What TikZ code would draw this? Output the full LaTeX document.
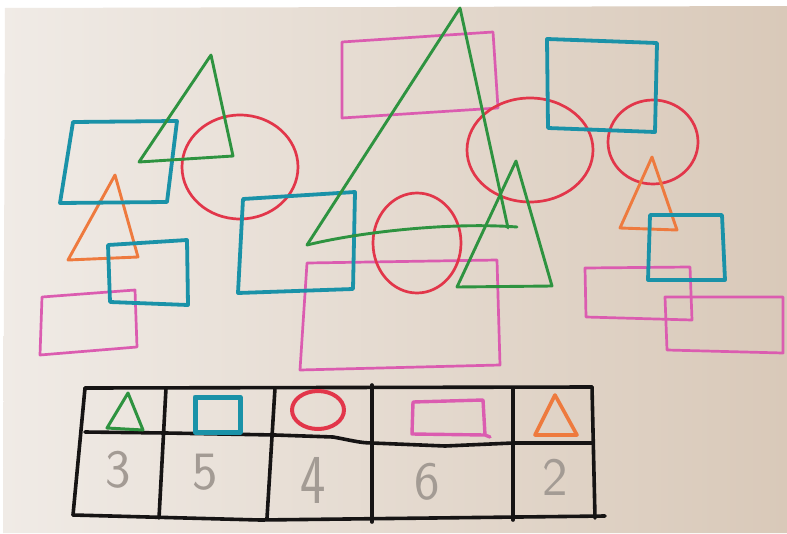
\documentclass[tikz,border=0pt]{standalone}
\definecolor{tealc}{HTML}{1A92A8}
\definecolor{greenc}{HTML}{2E9340}
\definecolor{redc}{HTML}{E2364A}
\definecolor{orangec}{HTML}{EE7A3E}
\definecolor{pinkc}{HTML}{DB5CB0}
\definecolor{inkc}{HTML}{161414}
\definecolor{greyc}{HTML}{A39B94}
\definecolor{paperL}{HTML}{F0EBE6}
\definecolor{paperR}{HTML}{D9C9B9}
\begin{document}
\begin{tikzpicture}[x=1pt,y=-1pt,line join=round,line cap=round,
  tealpen/.style={draw=tealc,line width=3.8pt},
  greenpen/.style={draw=greenc,line width=2.9pt},
  redpen/.style={draw=redc,line width=2.7pt},
  orangepen/.style={draw=orangec,line width=2.9pt},
  pinkpen/.style={draw=pinkc,line width=2.7pt},
  tablepen/.style={draw=inkc,line width=3.6pt},
  numtxt/.style={text=greyc,font=\sffamily\fontsize{54}{54}\selectfont,inner sep=0pt}]
\useasboundingbox (0,0) rectangle (787,533);
\fill[white] (0,0) rectangle (787,533);
\shade[left color=paperL,right color=paperR] (5,8) -- (787,6) -- (787,533) -- (3,533) -- cycle;

% pink rectangles
\draw[pinkpen] (342,42) -- (493,32) -- (498,108) -- (342,118) -- cycle;
\draw[pinkpen] (307,263) -- (497,260) -- (500,365) -- (300,370) -- cycle;
\draw[pinkpen] (42,297) -- (135,290) -- (137,347) -- (40,355) -- cycle;
\draw[pinkpen] (585,268) -- (690,267) -- (692,320) -- (586,317) -- cycle;
\draw[pinkpen] (665,297) -- (783,297) -- (783,353) -- (667,350) -- cycle;

% red circles
\draw[redpen] (240,167) ellipse [x radius=58,y radius=52];
\draw[redpen] (417,243) ellipse [x radius=44,y radius=50];
\draw[redpen] (530,150) ellipse [x radius=63,y radius=52];
\draw[redpen] (653,142) ellipse [x radius=45,y radius=42];

% orange triangles
\draw[orangepen] (115,175) -- (138,257) -- (68,260) -- cycle;
\draw[orangepen] (652,157) -- (677,230) -- (620,228) -- cycle;

% teal squares
\draw[tealpen] (73,122) -- (177,121) -- (167,202) -- (60,203) -- cycle;
\draw[tealpen] (108,245) -- (187,240) -- (188,305) -- (110,302) -- cycle;
\draw[tealpen] (243,199) -- (355,192) -- (353,289) -- (238,293) -- cycle;
\draw[tealpen] (547,39) -- (657,43) -- (655,132) -- (548,128) -- cycle;
\draw[tealpen] (650,215) -- (722,215) -- (725,280) -- (648,280) -- cycle;

% green triangles
\draw[greenpen] (211,55) -- (233,156) -- (139,162) -- cycle;
\draw[greenpen] (307,245) -- (460,8) -- (508,228);
\draw[greenpen] (307,245) .. controls (360,232) and (450,222) .. (517,227);
\draw[greenpen] (516,161) -- (552,286) -- (457,287) -- cycle;

% table
\draw[tablepen] (85,388) -- (592,387);
\draw[tablepen] (85,388) -- (73,515);
\draw[tablepen] (73,515) -- (260,520) -- (605,516);
\draw[tablepen] (592,387) -- (595,518);
\draw[tablepen] (166,388) -- (159,518);
\draw[tablepen] (275,388) -- (267,518);
\draw[tablepen] (372,385) -- (372,522);
\draw[tablepen] (513,388) -- (513,520);
\draw[tablepen] (85,432) -- (166,433) -- (275,435) -- (333,437)
  .. controls (350,440) and (360,443) .. (372,443) -- (445,446);
\draw[tablepen] (445,446) -- (513,443) -- (592,443);

% legend icons
\draw[greenpen,line width=3pt] (128,393) -- (143,430) -- (107,428) -- cycle;
\draw[tealpen,line width=5pt] (195,397) -- (240,397) -- (240,432) -- (195,432) -- cycle;
\draw[redpen,line width=4pt] (318,410) ellipse [x radius=26,y radius=19];
\draw[pinkpen,line width=3.4pt] (413,402) -- (483,400) -- (485,435) -- (412,434) -- cycle (485,435) -- (490,437);
\draw[orangepen,line width=3.6pt] (555,395) -- (577,435) -- (535,435) -- cycle;

% counts
\node[numtxt] (n3) at (118,470) {3};
\node[numtxt] (n5) at (205,472) {5};
\node[numtxt,yscale=1.3,transform shape] (n4) at (313,480) {4};
\node[numtxt] (n6) at (427,482) {6};
\node[numtxt] (n2) at (555,477) {2};
\end{tikzpicture}
\end{document}
